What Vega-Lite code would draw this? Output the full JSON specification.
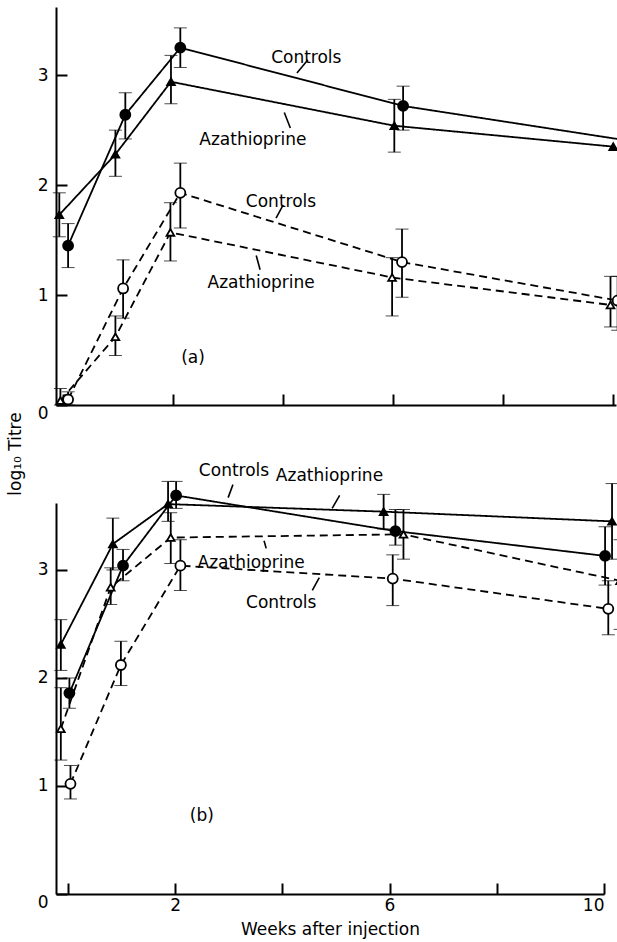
{
  "$schema": "https://vega.github.io/schema/vega-lite/v6.json",
  "padding": {"left": 7, "top": 7, "right": 0, "bottom": 4},
  "bounds": "flush",
  "title": {"text": "log₁₀ Titre", "orient": "left", "anchor": "middle", "fontSize": 17, "font": "DejaVu Sans", "fontWeight": "normal", "color": "black", "offset": 12, "dx": 18},
  "datasets": {
    "pts": [
      {"panel": "a", "group": "Controls", "style": "solid", "week": 0.09, "titre": 1.45, "lo": 1.25, "hi": 1.65},
      {"panel": "a", "group": "Controls", "style": "solid", "week": 1.13, "titre": 2.64, "lo": 2.42, "hi": 2.84},
      {"panel": "a", "group": "Controls", "style": "solid", "week": 2.13, "titre": 3.25, "lo": 3.07, "hi": 3.43},
      {"panel": "a", "group": "Controls", "style": "solid", "week": 6.18, "titre": 2.72, "lo": 2.5, "hi": 2.9},
      {"panel": "a", "group": "Controls", "style": "solid", "week": 10.2, "titre": 2.41, "lo": null, "hi": null},
      {"panel": "a", "group": "Azathioprine", "style": "solid", "week": -0.07, "titre": 1.73, "lo": 1.53, "hi": 1.93},
      {"panel": "a", "group": "Azathioprine", "style": "solid", "week": 0.95, "titre": 2.28, "lo": 2.08, "hi": 2.5},
      {"panel": "a", "group": "Azathioprine", "style": "solid", "week": 1.96, "titre": 2.94, "lo": 2.74, "hi": 3.18},
      {"panel": "a", "group": "Azathioprine", "style": "solid", "week": 6.02, "titre": 2.54, "lo": 2.3, "hi": 2.78},
      {"panel": "a", "group": "Azathioprine", "style": "solid", "week": 10.0, "titre": 2.35, "lo": null, "hi": null},
      {"panel": "a", "group": "Controls", "style": "dashed", "week": 0.09, "titre": 0.05, "lo": 0.0, "hi": 0.12},
      {"panel": "a", "group": "Controls", "style": "dashed", "week": 1.09, "titre": 1.06, "lo": 0.79, "hi": 1.32},
      {"panel": "a", "group": "Controls", "style": "dashed", "week": 2.13, "titre": 1.93, "lo": 1.61, "hi": 2.2},
      {"panel": "a", "group": "Controls", "style": "dashed", "week": 6.16, "titre": 1.3, "lo": 0.98, "hi": 1.6},
      {"panel": "a", "group": "Controls", "style": "dashed", "week": 10.08, "titre": 0.95, "lo": 0.68, "hi": 1.17},
      {"panel": "a", "group": "Azathioprine", "style": "dashed", "week": -0.05, "titre": 0.04, "lo": 0.0, "hi": 0.15},
      {"panel": "a", "group": "Azathioprine", "style": "dashed", "week": 0.95, "titre": 0.62, "lo": 0.45, "hi": 0.81},
      {"panel": "a", "group": "Azathioprine", "style": "dashed", "week": 1.95, "titre": 1.57, "lo": 1.31, "hi": 1.84},
      {"panel": "a", "group": "Azathioprine", "style": "dashed", "week": 5.98, "titre": 1.16, "lo": 0.81, "hi": 1.34},
      {"panel": "a", "group": "Azathioprine", "style": "dashed", "week": 9.95, "titre": 0.91, "lo": 0.71, "hi": 1.17},
      {"panel": "b", "group": "Azathioprine", "style": "solid", "week": -0.13, "titre": 2.31, "lo": 2.07, "hi": 2.54},
      {"panel": "b", "group": "Azathioprine", "style": "solid", "week": 0.84, "titre": 3.24, "lo": 3.0, "hi": 3.48},
      {"panel": "b", "group": "Azathioprine", "style": "solid", "week": 1.87, "titre": 3.61, "lo": 3.45, "hi": 3.82},
      {"panel": "b", "group": "Azathioprine", "style": "solid", "week": 5.89, "titre": 3.54, "lo": 3.38, "hi": 3.7},
      {"panel": "b", "group": "Azathioprine", "style": "solid", "week": 10.15, "titre": 3.45, "lo": 3.1, "hi": 3.8},
      {"panel": "b", "group": "Controls", "style": "solid", "week": 0.03, "titre": 1.86, "lo": 1.72, "hi": 2.0},
      {"panel": "b", "group": "Controls", "style": "solid", "week": 1.03, "titre": 3.04, "lo": 2.9, "hi": 3.19},
      {"panel": "b", "group": "Controls", "style": "solid", "week": 2.02, "titre": 3.69, "lo": 3.57, "hi": 3.82},
      {"panel": "b", "group": "Controls", "style": "solid", "week": 6.11, "titre": 3.36, "lo": 3.23, "hi": 3.56},
      {"panel": "b", "group": "Controls", "style": "solid", "week": 10.02, "titre": 3.13, "lo": 2.86, "hi": 3.4},
      {"panel": "b", "group": "Azathioprine", "style": "dashed", "week": -0.13, "titre": 1.53, "lo": 1.24, "hi": 1.91},
      {"panel": "b", "group": "Azathioprine", "style": "dashed", "week": 0.8, "titre": 2.84, "lo": 2.68, "hi": 3.02},
      {"panel": "b", "group": "Azathioprine", "style": "dashed", "week": 1.92, "titre": 3.3, "lo": 3.06, "hi": 3.53},
      {"panel": "b", "group": "Azathioprine", "style": "dashed", "week": 6.26, "titre": 3.33, "lo": 3.1, "hi": 3.56},
      {"panel": "b", "group": "Azathioprine", "style": "dashed", "week": 10.3, "titre": 2.9, "lo": 2.45, "hi": 3.28},
      {"panel": "b", "group": "Controls", "style": "dashed", "week": 0.05, "titre": 1.02, "lo": 0.88, "hi": 1.19},
      {"panel": "b", "group": "Controls", "style": "dashed", "week": 0.99, "titre": 2.12, "lo": 1.93, "hi": 2.34},
      {"panel": "b", "group": "Controls", "style": "dashed", "week": 2.1, "titre": 3.04, "lo": 2.81, "hi": 3.28},
      {"panel": "b", "group": "Controls", "style": "dashed", "week": 6.06, "titre": 2.92, "lo": 2.67, "hi": 3.14},
      {"panel": "b", "group": "Controls", "style": "dashed", "week": 10.08, "titre": 2.64, "lo": 2.4, "hi": 2.9}
    ],
    "labels": [
      {"panel": "a", "x": 4.42, "y": 3.16, "text": "Controls", "align": "left"},
      {"panel": "a", "x": 3.45, "y": 2.41, "text": "Azathioprine", "align": "left"},
      {"panel": "a", "x": 3.96, "y": 1.85, "text": "Controls", "align": "left"},
      {"panel": "a", "x": 3.6, "y": 1.11, "text": "Azathioprine", "align": "left"},
      {"panel": "a", "x": 2.36, "y": 0.43, "text": "(a)", "align": "center"},
      {"panel": "b", "x": 3.1, "y": 3.92, "text": "Controls", "align": "left"},
      {"panel": "b", "x": 4.88, "y": 3.87, "text": "Azathioprine", "align": "left"},
      {"panel": "b", "x": 3.42, "y": 3.06, "text": "Azathioprine", "align": "left"},
      {"panel": "b", "x": 3.98, "y": 2.69, "text": "Controls", "align": "left"},
      {"panel": "b", "x": 2.5, "y": 0.72, "text": "(b)", "align": "center"}
    ],
    "leaders": [
      {"panel": "a", "x": 4.25, "y": 3.02, "x2": 4.45, "y2": 3.14},
      {"panel": "a", "x": 4.02, "y": 2.66, "x2": 4.13, "y2": 2.52},
      {"panel": "a", "x": 3.87, "y": 1.7, "x2": 4.0, "y2": 1.82},
      {"panel": "a", "x": 3.51, "y": 1.36, "x2": 3.58, "y2": 1.23},
      {"panel": "b", "x": 2.99, "y": 3.67, "x2": 3.08, "y2": 3.79},
      {"panel": "b", "x": 4.93, "y": 3.57, "x2": 5.07, "y2": 3.69},
      {"panel": "b", "x": 3.66, "y": 3.27, "x2": 3.7, "y2": 3.2},
      {"panel": "b", "x": 4.56, "y": 2.81, "x2": 4.69, "y2": 2.93}
    ]
  },
  "spacing": 98,
  "resolve": {"scale": {"x": "independent", "y": "independent"}},
  "vconcat": [
    {
      "width": 560,
      "height": 398,
      "layer": [
        {
          "data": {"name": "pts"},
          "transform": [{"filter": "datum.panel == 'a'"}],
          "mark": {"type": "line", "color": "black", "strokeWidth": 1.8},
          "encoding": {
            "x": {"field": "week", "type": "quantitative", "scale": {"domain": [-0.13, 10.05], "nice": false, "zero": false},
                  "axis": {"values": [0, 2, 4, 6, 8, 10], "labels": false, "title": null}},
            "y": {"field": "titre", "type": "quantitative", "scale": {"domain": [0, 3.62], "nice": false},
                  "axis": {"values": [0, 1, 2, 3], "format": "d", "title": null, "labelBaseline": {"condition": {"test": "datum.value == 0", "value": "top"}, "value": "middle"}}},
            "detail": {"field": "group"},
            "strokeDash": {"field": "style", "type": "nominal", "scale": {"domain": ["solid", "dashed"], "range": [[1, 0], [8, 5]]}, "legend": null}
          }
        },
        {
          "data": {"name": "pts"},
          "transform": [{"filter": "datum.panel == 'a' && datum.lo != null"}],
          "mark": {"type": "errorbar", "color": "black", "ticks": {"size": 13, "strokeWidth": 1.8}, "rule": {"strokeWidth": 1.8}},
          "encoding": {
            "x": {"field": "week", "type": "quantitative"},
            "y": {"field": "lo", "type": "quantitative"},
            "y2": {"field": "hi"}
          }
        },
        {
          "data": {"name": "pts"},
          "transform": [{"filter": "datum.panel == 'a'"}],
          "mark": {"type": "point", "filled": false, "stroke": "black", "strokeWidth": 1.8, "opacity": 1},
          "encoding": {
            "x": {"field": "week", "type": "quantitative"},
            "y": {"field": "titre", "type": "quantitative"},
            "shape": {"field": "group", "type": "nominal", "scale": {"domain": ["Controls", "Azathioprine"], "range": ["circle", "triangle-up"]}, "legend": null},
            "size": {"field": "group", "type": "nominal", "scale": {"domain": ["Controls", "Azathioprine"], "range": [100, 60]}, "legend": null},
            "fill": {"field": "style", "type": "nominal", "scale": {"domain": ["solid", "dashed"], "range": ["black", "white"]}, "legend": null}
          }
        },
        {
          "data": {"name": "leaders"},
          "transform": [{"filter": "datum.panel == 'a'"}],
          "mark": {"type": "rule", "color": "black", "strokeWidth": 1.6},
          "encoding": {
            "x": {"field": "x", "type": "quantitative"},
            "y": {"field": "y", "type": "quantitative"},
            "x2": {"field": "x2"},
            "y2": {"field": "y2"}
          }
        },
        {
          "data": {"name": "labels"},
          "transform": [{"filter": "datum.panel == 'a'"}],
          "mark": {"type": "text", "font": "DejaVu Sans", "fontSize": 17, "color": "black", "baseline": "middle"},
          "encoding": {
            "x": {"field": "x", "type": "quantitative"},
            "y": {"field": "y", "type": "quantitative"},
            "text": {"field": "text"},
            "align": {"field": "align", "type": "nominal", "scale": null}
          }
        }
      ]
    },
    {
      "width": 548,
      "height": 391,
      "layer": [
        {
          "data": {"name": "pts"},
          "transform": [{"filter": "datum.panel == 'b'"}],
          "mark": {"type": "line", "color": "black", "strokeWidth": 1.8},
          "encoding": {
            "x": {"field": "week", "type": "quantitative", "scale": {"domain": [-0.22, 10.0], "nice": false, "zero": false},
                  "axis": {"values": [0, 2, 4, 6, 8, 10], "title": "Weeks after injection", "labelExpr": "(datum.value == 2 || datum.value == 6 || datum.value == 10) ? datum.label : ''"}},
            "y": {"field": "titre", "type": "quantitative", "scale": {"domain": [0, 3.62], "nice": false},
                  "axis": {"values": [0, 1, 2, 3], "format": "d", "title": null, "labelBaseline": {"condition": {"test": "datum.value == 0", "value": "top"}, "value": "middle"}}},
            "detail": {"field": "group"},
            "strokeDash": {"field": "style", "type": "nominal", "scale": {"domain": ["solid", "dashed"], "range": [[1, 0], [8, 5]]}, "legend": null}
          }
        },
        {
          "data": {"name": "pts"},
          "transform": [{"filter": "datum.panel == 'b' && datum.lo != null"}],
          "mark": {"type": "errorbar", "color": "black", "ticks": {"size": 13, "strokeWidth": 1.8}, "rule": {"strokeWidth": 1.8}},
          "encoding": {
            "x": {"field": "week", "type": "quantitative"},
            "y": {"field": "lo", "type": "quantitative"},
            "y2": {"field": "hi"}
          }
        },
        {
          "data": {"name": "pts"},
          "transform": [{"filter": "datum.panel == 'b'"}],
          "mark": {"type": "point", "filled": false, "stroke": "black", "strokeWidth": 1.8, "opacity": 1},
          "encoding": {
            "x": {"field": "week", "type": "quantitative"},
            "y": {"field": "titre", "type": "quantitative"},
            "shape": {"field": "group", "type": "nominal", "scale": {"domain": ["Controls", "Azathioprine"], "range": ["circle", "triangle-up"]}, "legend": null},
            "size": {"field": "group", "type": "nominal", "scale": {"domain": ["Controls", "Azathioprine"], "range": [100, 60]}, "legend": null},
            "fill": {"field": "style", "type": "nominal", "scale": {"domain": ["solid", "dashed"], "range": ["black", "white"]}, "legend": null}
          }
        },
        {
          "data": {"name": "leaders"},
          "transform": [{"filter": "datum.panel == 'b'"}],
          "mark": {"type": "rule", "color": "black", "strokeWidth": 1.6},
          "encoding": {
            "x": {"field": "x", "type": "quantitative"},
            "y": {"field": "y", "type": "quantitative"},
            "x2": {"field": "x2"},
            "y2": {"field": "y2"}
          }
        },
        {
          "data": {"name": "labels"},
          "transform": [{"filter": "datum.panel == 'b'"}],
          "mark": {"type": "text", "font": "DejaVu Sans", "fontSize": 17, "color": "black", "baseline": "middle"},
          "encoding": {
            "x": {"field": "x", "type": "quantitative"},
            "y": {"field": "y", "type": "quantitative"},
            "text": {"field": "text"},
            "align": {"field": "align", "type": "nominal", "scale": null}
          }
        }
      ]
    }
  ],
  "config": {
    "view": {"stroke": null},
    "axis": {
      "grid": false,
      "domainColor": "black",
      "domainWidth": 2,
      "tickColor": "black",
      "tickWidth": 2,
      "tickSize": -11,
      "labelPadding": 19,
      "labelFont": "DejaVu Sans",
      "labelFontSize": 17,
      "labelColor": "black",
      "titleFont": "DejaVu Sans",
      "titleFontSize": 17,
      "titleFontWeight": "normal",
      "titleColor": "black"
    },
    "axisX": {"labelPadding": 14, "titlePadding": 8}
  }
}
